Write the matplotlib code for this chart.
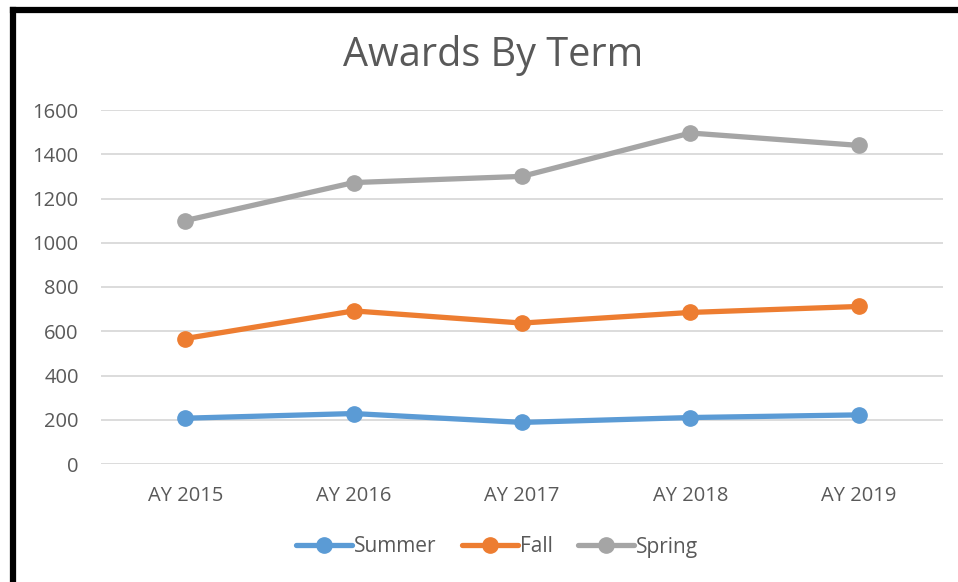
import matplotlib.pyplot as plt
from matplotlib.lines import Line2D

# data
years = ['AY 2015', 'AY 2016', 'AY 2017', 'AY 2018', 'AY 2019']
summer = [207, 228, 188, 210, 222]
fall = [567, 692, 637, 685, 712]
spring = [1100, 1272, 1300, 1496, 1440]

plt.rcParams['font.family'] = ['Open Sans', 'DejaVu Sans']
text_col = '#595959'

fig = plt.figure(figsize=(9.58, 5.82), dpi=100)
ax = fig.add_axes([101 / 958, 1 - 464 / 582, 842 / 958, 354 / 582])

x = range(len(years))
series = [('Summer', summer, '#5B9BD5'),
          ('Fall', fall, '#ED7D31'),
          ('Spring', spring, '#A5A5A5')]
for name, vals, col in series:
    ax.plot(x, vals, color=col, lw=3.8, marker='o', ms=11,
            solid_capstyle='round', label=name, zorder=3)

ax.set_xlim(-0.5, len(years) - 0.5)
ax.set_ylim(0, 1600)
ax.set_yticks(range(0, 1601, 200))
ax.set_xticks(list(x))
ax.set_xticklabels(years)
ax.grid(axis='y', color='#D9D9D9', lw=1.3)
ax.set_axisbelow(True)
for s in ax.spines.values():
    s.set_visible(False)
ax.tick_params(length=0, labelsize=14.5, labelcolor=text_col)
ax.tick_params(axis='y', pad=16)
ax.tick_params(axis='x', pad=16)

fig.text(493 / 958, 1 - 55 / 582, 'Awards By Term', ha='center', va='center',
         fontsize=28.5, color=text_col)

leg = fig.legend(loc='center', bbox_to_anchor=(497 / 958, 1 - 547 / 582),
                 ncol=3, frameon=False, fontsize=15, handlelength=2.7,
                 handletextpad=0.1, columnspacing=1.2)
for t in leg.get_texts():
    t.set_color(text_col)

# black frame on the left and top edges
fig.add_artist(Line2D([13 / 958, 13 / 958], [0, 1 - 10 / 582],
                      color='black', lw=4.5, transform=fig.transFigure,
                      solid_capstyle='projecting'))
fig.add_artist(Line2D([13 / 958, 1], [1 - 10 / 582, 1 - 10 / 582],
                      color='black', lw=4.5, transform=fig.transFigure,
                      solid_capstyle='projecting'))

fig.savefig('out.png', dpi=100)
